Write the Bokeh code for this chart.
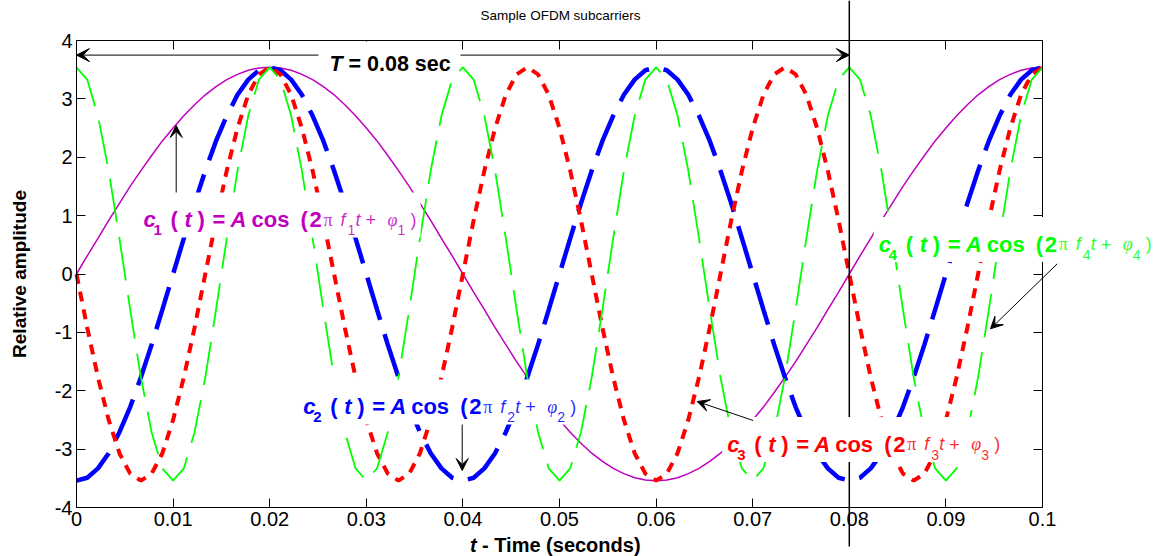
import numpy as np
from bokeh.plotting import figure
from bokeh.models import Range1d, LinearAxis, FixedTicker, Label, Arrow, VeeHead, BoxAnnotation
from bokeh.embed import file_html
from bokeh.resources import INLINE

# ---------------- data ----------------
# sample instants of the plotted curves (91 samples over 0 .. 0.1 s)
t = np.linspace(0.0, 0.1, 91)

c1 = [0.00, 0.31, 0.61, 0.92, 1.21, 1.50, 1.77, 2.03, 2.28, 2.50, 2.71, 2.90, 3.07, 3.21, 3.33, 3.42, 3.49, 3.53, 3.54,
      3.53, 3.49, 3.42, 3.33, 3.21, 3.07, 2.90, 2.71, 2.50, 2.28, 2.03, 1.77, 1.50, 1.21, 0.92, 0.61, 0.31, 0.00,
      -0.31, -0.61, -0.92, -1.21, -1.50, -1.77, -2.03, -2.28, -2.50, -2.71, -2.90, -3.07, -3.21, -3.33, -3.42, -3.49, -3.53, -3.54,
      -3.53, -3.49, -3.42, -3.33, -3.21, -3.07, -2.90, -2.71, -2.50, -2.28, -2.03, -1.77, -1.50, -1.21, -0.92, -0.61, -0.31, 0.00,
      0.31, 0.61, 0.92, 1.21, 1.50, 1.77, 2.03, 2.28, 2.50, 2.71, 2.90, 3.07, 3.21, 3.33, 3.42, 3.49, 3.53, 3.54]

c2 = [-3.54, -3.49, -3.33, -3.07, -2.71, -2.28, -1.77, -1.21, -0.61, 0.00,
      0.61, 1.21, 1.77, 2.28, 2.71, 3.07, 3.33, 3.49, 3.54,
      3.49, 3.33, 3.07, 2.71, 2.28, 1.77, 1.21, 0.61, 0.00,
      -0.61, -1.21, -1.77, -2.28, -2.71, -3.07, -3.33, -3.49,
      -3.54, -3.49, -3.33, -3.07, -2.71, -2.28, -1.77, -1.21, -0.61, 0.00,
      0.61, 1.21, 1.77, 2.28, 2.71, 3.07, 3.33, 3.49, 3.54,
      3.49, 3.33, 3.07, 2.71, 2.28, 1.77, 1.21, 0.61, 0.00,
      -0.61, -1.21, -1.77, -2.28, -2.71, -3.07, -3.33, -3.49,
      -3.54, -3.49, -3.33, -3.07, -2.71, -2.28, -1.77, -1.21, -0.61, 0.00,
      0.61, 1.21, 1.77, 2.28, 2.71, 3.07, 3.33, 3.49, 3.54]

c3 = [0.00, -0.92, -1.77, -2.50, -3.07, -3.42, -3.54, -3.42, -3.07, -2.50, -1.77, -0.92,
      0.00, 0.92, 1.77, 2.50, 3.07, 3.42, 3.54, 3.42, 3.07, 2.50, 1.77, 0.92,
      0.00, -0.92, -1.77, -2.50, -3.07, -3.42, -3.54, -3.42, -3.07, -2.50, -1.77, -0.92,
      0.00, 0.92, 1.77, 2.50, 3.07, 3.42, 3.54, 3.42, 3.07, 2.50, 1.77, 0.92,
      0.00, -0.92, -1.77, -2.50, -3.07, -3.42, -3.54, -3.42, -3.07, -2.50, -1.77, -0.92,
      0.00, 0.92, 1.77, 2.50, 3.07, 3.42, 3.54, 3.42, 3.07, 2.50, 1.77, 0.92,
      0.00, -0.92, -1.77, -2.50, -3.07, -3.42, -3.54, -3.42, -3.07, -2.50, -1.77, -0.92,
      0.00, 0.92, 1.77, 2.50, 3.07, 3.42, 3.54]

c4 = [3.54, 3.33, 2.71, 1.77, 0.61, -0.61, -1.77, -2.71, -3.33, -3.54, -3.33, -2.71, -1.77, -0.61, 0.61, 1.77, 2.71, 3.33,
      3.54, 3.33, 2.71, 1.77, 0.61, -0.61, -1.77, -2.71, -3.33, -3.54, -3.33, -2.71, -1.77, -0.61, 0.61, 1.77, 2.71, 3.33,
      3.54, 3.33, 2.71, 1.77, 0.61, -0.61, -1.77, -2.71, -3.33, -3.54, -3.33, -2.71, -1.77, -0.61, 0.61, 1.77, 2.71, 3.33,
      3.54, 3.33, 2.71, 1.77, 0.61, -0.61, -1.77, -2.71, -3.33, -3.54, -3.33, -2.71, -1.77, -0.61, 0.61, 1.77, 2.71, 3.33,
      3.54, 3.33, 2.71, 1.77, 0.61, -0.61, -1.77, -2.71, -3.33, -3.54, -3.33, -2.71, -1.77, -0.61, 0.61, 1.77, 2.71, 3.33,
      3.54]

x_ticks = [0, 0.01, 0.02, 0.03, 0.04, 0.05, 0.06, 0.07, 0.08, 0.09, 0.1]
x_tick_labels = ["0", "0.01", "0.02", "0.03", "0.04", "0.05", "0.06", "0.07", "0.08", "0.09", "0.1"]
y_ticks = [-4, -3, -2, -1, 0, 1, 2, 3, 4]
y_tick_labels = ["-4", "-3", "-2", "-1", "0", "1", "2", "3", "4"]

X_MIN, X_MAX = 0.0, 0.1
Y_MIN, Y_MAX = -4.0, 4.0
T_PERIOD = 0.08          # one symbol period, seconds
T_ARROW_Y = 3.75
subcarrier_ids = ["1", "2", "3", "4"]

# ---------------- layout ----------------
FONT = "Liberation Sans"
MAG, BLUE, RED, GREEN = "#BF00BF", "#0000FF", "#FF0000", "#00FF00"
W, H = 1160, 556                      # canvas size
BOX_L, BOX_T, BOX_W, BOX_H = 76, 40, 966, 467   # axes box in canvas pixels
SX = BOX_W / (X_MAX - X_MIN)          # px per data unit
SY = BOX_H / (Y_MAX - Y_MIN)


def dx(X):
    return X_MIN + (X - BOX_L) / SX


def dy(Y):
    return Y_MAX - (Y - BOX_T) / SY


# the plotting frame covers the whole canvas so that nothing gets clipped;
# the axes box is drawn with axes fixed at the data limits
p = figure(width=W, height=H, min_border=0,
           x_range=Range1d(dx(0), dx(W)), y_range=Range1d(dy(H), dy(0)),
           output_backend="svg", toolbar_location=None,
           background_fill_color="white", border_fill_color="white")
p.outline_line_color = None
p.grid.visible = False


def style_axis(ax, ticks, labels, show, loc, bounds):
    ax.fixed_location = loc
    ax.bounds = bounds
    ax.ticker = FixedTicker(ticks=ticks)
    ax.major_label_overrides = {tk: (lb if show else "") for tk, lb in zip(ticks, labels)}
    ax.major_tick_in = 9
    ax.major_tick_out = 0
    ax.minor_tick_in = 0
    ax.minor_tick_out = 0
    ax.axis_line_color = "black"
    ax.axis_line_width = 1
    ax.major_tick_line_color = "black"
    ax.major_tick_line_width = 1
    ax.major_label_text_font = FONT
    ax.major_label_text_font_size = "20px" if show else "0px"
    ax.major_label_text_color = "black"
    ax.major_label_standoff = 4 if show else 0


style_axis(p.xaxis[0], x_ticks, x_tick_labels, True, Y_MIN, (X_MIN, X_MAX))
style_axis(p.yaxis[0], y_ticks, y_tick_labels, True, X_MIN, (Y_MIN, Y_MAX))
p.yaxis[0].axis_label = "Relative amplitude"
p.yaxis[0].axis_label_text_font = FONT
p.yaxis[0].axis_label_text_font_size = "19px"
p.yaxis[0].axis_label_text_font_style = "bold"
p.yaxis[0].axis_label_text_color = "black"
p.yaxis[0].axis_label_standoff = 22

top_ax = LinearAxis()
style_axis(top_ax, x_ticks, x_tick_labels, False, Y_MAX, (X_MIN, X_MAX))
p.add_layout(top_ax, "above")
right_ax = LinearAxis()
style_axis(right_ax, y_ticks, y_tick_labels, False, X_MAX, (Y_MIN, Y_MAX))
p.add_layout(right_ax, "right")

# ---------------- curves ----------------
p.line(t, c1, line_color=MAG, line_width=1.5)
p.line(t, c2, line_color=BLUE, line_width=4.5, line_dash="44 15")
p.line(t, c3, line_color=RED, line_width=4, line_dash="10 8")
p.line(t, c4, line_color=GREEN, line_width=1.8, line_dash="44 15")

# ---------------- annotations ----------------
p.add_layout(Label(x=dx(560), y=dy(14.5), text="Sample OFDM subcarriers", text_font=FONT,
                   text_font_size="13.5px", text_color="black", text_align="center",
                   text_baseline="alphabetic"))

# vertical marker at t = T
p.add_layout(Arrow(end=None, x_start=T_PERIOD, x_end=T_PERIOD, y_start=dy(0), y_end=dy(546),
                   line_color="black", line_width=1.5, level="annotation"))
# double arrow for the period
p.add_layout(Arrow(start=VeeHead(size=13, fill_color="black", line_color="black"),
                   end=VeeHead(size=13, fill_color="black", line_color="black"),
                   x_start=X_MIN, x_end=T_PERIOD, y_start=T_ARROW_Y, y_end=T_ARROW_Y,
                   line_color="black", line_width=1, level="annotation"))

p.add_layout(BoxAnnotation(left=dx(318), right=dx(460), top=dy(41), bottom=dy(67),
                           fill_color="white", fill_alpha=1, line_color=None, level="overlay"))
p.add_layout(Label(x=dx(329), y=dy(63.5), text="T", text_font=FONT, text_font_size="21.5px",
                   text_font_style="bold italic", text_color="black", text_baseline="alphabetic",
                   level="overlay"))
p.add_layout(Label(x=dx(348), y=dy(63.5), text="= 0.08 sec", text_font=FONT,
                   text_font_size="21.5px", text_font_style="bold", text_color="black",
                   text_baseline="alphabetic", level="overlay"))

# formula pieces: (x offset px, text, font style, size px, subscript, light)
PIECES = [
    (0, "c", "bold italic", 22, False, False),
    (10, "{n}", "bold", 15, True, False),
    (27, "(", "bold", 22, False, False),
    (41, "t", "bold italic", 22, False, False),
    (54, ")", "bold", 22, False, False),
    (69, "=", "bold", 22, False, False),
    (87, "A", "bold italic", 22, False, False),
    (108, "cos", "bold", 22, False, False),
    (157, "(", "bold", 22, False, False),
    (166, "2", "bold", 22, False, False),
    (180, "\u03c0", "normal", 18, False, True),
    (197, "f", "italic", 18, False, True),
    (204, "{n}", "normal", 14, True, True),
    (212, "t", "italic", 18, False, True),
    (222, "+", "normal", 18, False, True),
    (244, "\u03c6", "italic", 18, False, True),
    (254, "{n}", "normal", 14, True, True),
    (267, ")", "normal", 18, False, True),
]


def add_formula(n, color, X, Y):
    p.add_layout(BoxAnnotation(left=dx(X - 5), right=dx(X + 277), top=dy(Y - 27), bottom=dy(Y + 18),
                               fill_color="white", fill_alpha=1, line_color=None, level="overlay"))
    for off, txt, style, size, sub, light in PIECES:
        yy = Y + (10.5 if sub else 0)
        font = "Liberation Serif" if txt in ("\u03c0", "\u03c6") else FONT
        p.add_layout(Label(x=dx(X), y=dy(yy), x_offset=off, text=txt.format(n=n),
                           text_font=font, text_font_size=f"{size}px", text_font_style=style,
                           text_color=color, text_alpha=0.85 if light else 1.0,
                           text_baseline="alphabetic", text_align="left", level="overlay"))


add_formula(subcarrier_ids[0], MAG, 143, 219)
add_formula(subcarrier_ids[1], BLUE, 302.7, 406)
add_formula(subcarrier_ids[2], RED, 726.7, 443.5)
add_formula(subcarrier_ids[3], GREEN, 878.3, 243.6)


# pointer arrows
def pointer(xs, ys, xe, ye):
    p.add_layout(Arrow(end=VeeHead(size=12, fill_color="black", line_color="black"),
                       x_start=xs, y_start=ys, x_end=xe, y_end=ye,
                       line_color="black", line_width=1, level="overlay"))


pointer(dx(175.7), dy(192), dx(175.7), dy(125))
pointer(dx(461.7), dy(424), dx(461.7), dy(470))
pointer(dx(752.7), dy(420), dx(696.7), dy(401))
pointer(dx(1056.7), dy(263.3), dx(990), dy(328.3))

# x-axis title (italic t + bold text)
p.add_layout(Label(x=dx(469.5), y=dy(544), text="t", text_font=FONT, text_font_size="20px",
                   text_font_style="bold italic", text_color="black", text_baseline="alphabetic"))
p.add_layout(Label(x=dx(481.5), y=dy(544), text="- Time (seconds)", text_font=FONT,
                   text_font_size="20px", text_font_style="bold", text_color="black",
                   text_baseline="alphabetic"))

open("out.html", "w").write(file_html(p, INLINE))
